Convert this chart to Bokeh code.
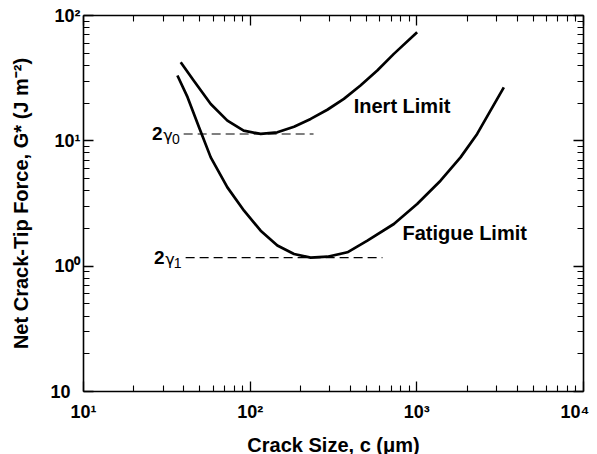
from bokeh.plotting import figure
from bokeh.models import LogAxis, FixedTicker
from bokeh.embed import file_html
from bokeh.resources import INLINE
from bokeh.core.properties import value

# ---- data ----
inert_c = [38.3, 45.8, 58.0, 73.0, 91.4, 115.6, 145.6, 183.3, 230.7, 290.4, 365, 459, 579, 728, 1004]
inert_g = [42.4, 30.3, 19.7, 14.5, 12.05, 11.35, 11.7, 12.97, 14.96, 17.7, 21.6, 27.6, 36.4, 49.4, 73.6]

fatigue_c = [36.6, 42.1, 49.4, 58.0, 73.0, 91.9, 115.6, 145.6, 183.3, 230.7, 290.4, 383, 505, 728,
             1004, 1387, 1828, 2301, 2766, 3327]
fatigue_g = [33.2, 22.3, 12.8, 7.38, 4.25, 2.77, 1.92, 1.46, 1.25, 1.17, 1.19, 1.29, 1.60, 2.17,
             3.13, 4.81, 7.38, 11.35, 17.4, 26.7]

gamma_names = ["0", "1"]
gamma_levels = [11.35, 1.17]
gamma_start = [39.9, 41.0]
gamma_end = [240, 622]

curve_labels = ["Inert Limit", "Fatigue Limit"]
curve_label_c = [418, 820]
curve_label_g = [19.1, 1.85]

x_major = [10, 100, 1000, 10000]
x_labels = ["10¹", "10²", "10³", "10⁴"]
y_major = [0.1, 1, 10, 100]
y_labels = ["10\u00a0\u00a0", "10⁰", "10¹", "10²"]

FONT = "Liberation Sans"

def minor(decades):
    return [m * d for d in decades[:-1] for m in range(2, 10)]

p = figure(frame_width=500, frame_height=376,
           x_axis_type="log", y_axis_type="log",
           x_range=(10, 1e4), y_range=(0.1, 100),
           output_backend="svg", toolbar_location=None,
           min_border_left=83, min_border_right=6, min_border_top=15, min_border_bottom=60,
           background_fill_color="white", border_fill_color="white")
p.outline_line_color = None
p.xgrid.visible = False
p.ygrid.visible = False

def style(ax, labels=True):
    ax.axis_line_width = 1.6
    ax.axis_line_color = "black"
    ax.major_tick_in = 10
    ax.major_tick_out = 0
    ax.minor_tick_in = 6
    ax.minor_tick_out = 0
    ax.major_tick_line_width = 1.3
    ax.minor_tick_line_width = 1.1
    ax.major_tick_line_color = "black"
    ax.minor_tick_line_color = "black"
    if labels:
        ax.major_label_text_font = FONT
        ax.major_label_text_font_style = "bold"
        ax.major_label_text_font_size = "18px"
        ax.major_label_text_color = "black"
        ax.axis_label_text_font = FONT
        ax.axis_label_text_font_style = "bold"
        ax.axis_label_text_font_size = "20px"
        ax.axis_label_text_color = "black"
    else:
        ax.major_label_text_font_size = "1px"
        ax.major_label_text_alpha = 0
        ax.major_label_standoff = 0

xa = p.xaxis[0]
xa.ticker = FixedTicker(ticks=x_major, minor_ticks=minor(x_major))
style(xa)
xa.major_label_overrides = {float(k): v for k, v in zip(x_major, x_labels)}
xa.major_label_standoff = 10
xa.axis_label = "Crack Size, c (μm)"
xa.axis_label_standoff = 9

ya = p.yaxis[0]
ya.ticker = FixedTicker(ticks=y_major, minor_ticks=minor(y_major))
style(ya)
ya.major_label_overrides = {float(k): v for k, v in zip(y_major, y_labels)}
ya.major_label_standoff = 3
ya.axis_label = "Net Crack-Tip Force, G* (J m⁻²)"
ya.axis_label_standoff = 15

top = LogAxis(ticker=FixedTicker(ticks=x_major, minor_ticks=minor(x_major)))
style(top, labels=False)
p.add_layout(top, "above")
right = LogAxis(ticker=FixedTicker(ticks=y_major, minor_ticks=minor(y_major)))
style(right, labels=False)
p.add_layout(right, "right")

# curves
p.line(inert_c, inert_g, line_color="black", line_width=2.7, line_join="round")
p.line(fatigue_c, fatigue_g, line_color="black", line_width=2.7, line_join="round")

# dashed reference levels
p.segment(x0=gamma_start, y0=gamma_levels, x1=gamma_end, y1=gamma_levels,
          line_color="black", line_width=1.1, line_dash="9 5")

# 2γ labels
p.text(x=gamma_start, y=gamma_levels, text=["2", "2"], text_align="right",
       text_baseline="middle", x_offset=-21, y_offset=0,
       text_font=value(FONT), text_font_style="bold", text_font_size="19px", text_color="black")
p.text(x=gamma_start, y=gamma_levels, text=["γ", "γ"], text_align="right",
       text_baseline="middle", x_offset=-11, y_offset=2,
       text_font=value("DejaVu Sans"), text_font_size="16px", text_color="black")
p.text(x=gamma_start, y=gamma_levels, text=gamma_names, text_align="right",
       text_baseline="middle", x_offset=-4, y_offset=5,
       text_font=value(FONT), text_font_size="14px", text_color="black")

# curve labels
p.text(x=curve_label_c, y=curve_label_g, text=curve_labels, text_align="left",
       text_baseline="middle", text_font=value(FONT), text_font_style="bold",
       text_font_size="20px", text_color="black")

open("out.html", "w").write(file_html(p, INLINE))
